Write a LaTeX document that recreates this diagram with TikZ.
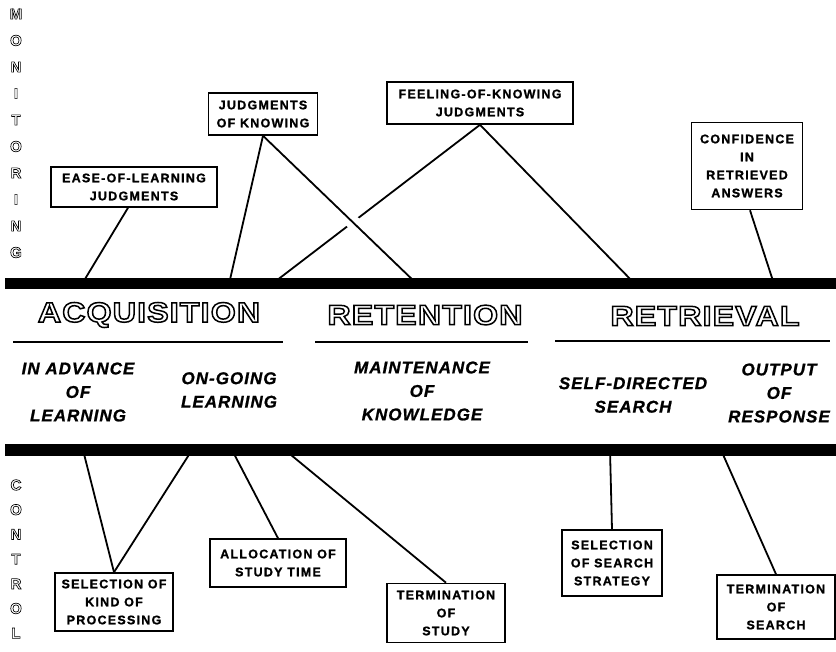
\documentclass[tikz,border=0pt]{standalone}
\usepackage{fontspec}
\setmainfont{Liberation Sans}
\newfontfamily\boxfont[LetterSpace=10,FakeBold=1.2]{Liberation Sans}
\newfontfamily\phasefont[LetterSpace=6,FakeBold=1]{Liberation Sans}
\newfontfamily\headfont[FakeStretch=1.15,LetterSpace=4]{Liberation Sans}
% hollow letters
\newcommand{\outl}[2][1.5]{\special{pdf:literal direct 1 Tr #1 w}#2\special{pdf:literal direct 0 Tr}}
\tikzset{
  judgebox/.style={draw, line width=1.6pt, inner sep=0pt, align=center,
    font=\boxfont\bfseries\fontsize{12.5}{18}\selectfont},
  phase/.style={align=center, inner sep=0pt,
    font=\phasefont\bfseries\itshape\fontsize{17}{23.5}\selectfont},
  stage/.style={inner sep=0pt, font=\headfont\bfseries\fontsize{28}{30}\selectfont},
  sideletter/.style={inner sep=0pt, font=\bfseries\fontsize{15}{15}\selectfont},
  bar/.style={line width=11pt},
  underline/.style={line width=2.4pt},
  link/.style={line width=1.8pt},
}
\begin{document}
\begin{tikzpicture}[x=1pt, y=-1pt]
        \useasboundingbox (0,0) rectangle (836,652);
        % coordinates on the monitoring bar
        \coordinate (mbarleft)  at (  5,284);
        \coordinate (mbarright) at (836,284);
        \coordinate (mease)     at ( 82,284);
        \coordinate (mjokleft)  at (229,284);
        \coordinate (mfokleft)  at (272,284);
        \coordinate (mjokright) at (417,284);
        \coordinate (mfokright) at (635,284);
        \coordinate (mconf)     at (774,284);
        % coordinates on the control bar
        \coordinate (cbarleft)  at (  5,450);
        \coordinate (cbarright) at (836,450);
        \coordinate (ckindleft) at ( 83,450);
        \coordinate (ckindright) at (192,450);
        \coordinate (calloc)    at (232,450);
        \coordinate (cstudy)    at (285,450);
        \coordinate (cstrategy) at (610,450);
        \coordinate (csearch)   at (721,450);
        % monitoring boxes
        \node[judgebox, minimum width=166pt, minimum height=40pt] (ease) at (134,187)
          {EASE-OF-LEARNING\\JUDGMENTS};
        \node[judgebox, minimum width=109pt, minimum height=42pt] (jok) at (263,114)
          {JUDGMENTS\\OF KNOWING};
        \node[judgebox, minimum width=186pt, minimum height=42pt] (fok) at (480,103)
          {FEELING-OF-KNOWING\\JUDGMENTS};
        \node[judgebox, minimum width=111pt, minimum height=87pt] (conf) at (747,166)
          {CONFIDENCE\\IN\\RETRIEVED\\ANSWERS};
        % control boxes
        \node[judgebox, minimum width=118pt, minimum height=58pt] (kind) at (114,602)
          {SELECTION OF\\KIND OF\\PROCESSING};
        \node[judgebox, minimum width=136pt, minimum height=48pt] (alloc) at (278,563)
          {ALLOCATION OF\\STUDY TIME};
        \node[judgebox, minimum width=118pt, minimum height=59pt] (study) at (446,613)
          {TERMINATION\\OF\\STUDY};
        \node[judgebox, minimum width=100pt, minimum height=66pt] (strategy) at (612,563)
          {SELECTION\\OF SEARCH\\STRATEGY};
        \node[judgebox, minimum width=118pt, minimum height=64pt] (search) at (776,607)
          {TERMINATION\\OF\\SEARCH};
        % stages and their phases
        \node[stage] (acq) at (149,315) {\outl{ACQUISITION}};
        \node[stage] (ret) at (425,315) {\outl{RETENTION}};
        \node[stage] (rtr) at (705,316) {\outl{RETRIEVAL}};
        \node[phase] (advance)  at ( 78,392) {IN ADVANCE\\OF\\LEARNING};
        \node[phase] (ongoing)  at (229,390) {ON-GOING\\LEARNING};
        \node[phase] (maintain) at (422,391) {MAINTENANCE\\OF\\KNOWLEDGE};
        \node[phase] (selfdir)  at (633,395) {SELF-DIRECTED\\SEARCH};
        \node[phase] (output)   at (779,393) {OUTPUT\\OF\\RESPONSE};
        \coordinate (acqleft)  at ( 13,342);
        \coordinate (acqright) at (283,342);
        \coordinate (retleft)  at (315,342);
        \coordinate (retright) at (528,342);
        \coordinate (rtrleft)  at (555,341);
        \coordinate (rtrright) at (830,341);
        \draw[underline] (acqleft) -- (acqright);
        \draw[underline] (retleft) -- (retright);
        \draw[underline] (rtrleft) -- (rtrright);
        % side words
        \foreach \l [count=\i] in {M,O,N,I,T,O,R,I,N,G}
          \node[sideletter] (mon\i) at (16,{14+26.5*(\i-1)}) {\outl[0.65]{\l}};
        \foreach \l [count=\i] in {C,O,N,T,R,O,L}
          \node[sideletter] (con\i) at (16,{485+24.7*(\i-1)}) {\outl[0.65]{\l}};
        % drawing the monitoring links
        \draw[link] ([xshift=-6pt]ease.south) -- (mease);
        \draw[link] (fok.south) -- (mfokleft);
        \draw[link, preaction={draw, white, line width=14pt, shorten <=30pt, shorten >=30pt}]
          (jok.south) -- (mjokright);
        \draw[link] (jok.south) -- (mjokleft);
        \draw[link] (fok.south) -- (mfokright);
        \draw[link] ([xshift=3pt]conf.south) -- (mconf);
        % drawing the control links
        \draw[link] (ckindleft)  -- (kind.north);
        \draw[link] (ckindright) -- (kind.north);
        \draw[link] (calloc)     -- (alloc.north);
        \draw[link] (cstudy)     -- (study.north);
        \draw[link] (cstrategy)  -- (strategy.north);
        \draw[link] (csearch)    -- (search.north);
        % drawing the two bars
        \draw[bar] (mbarleft) -- (mbarright);
        \draw[bar] (cbarleft) -- (cbarright);
\end{tikzpicture}
\end{document}
